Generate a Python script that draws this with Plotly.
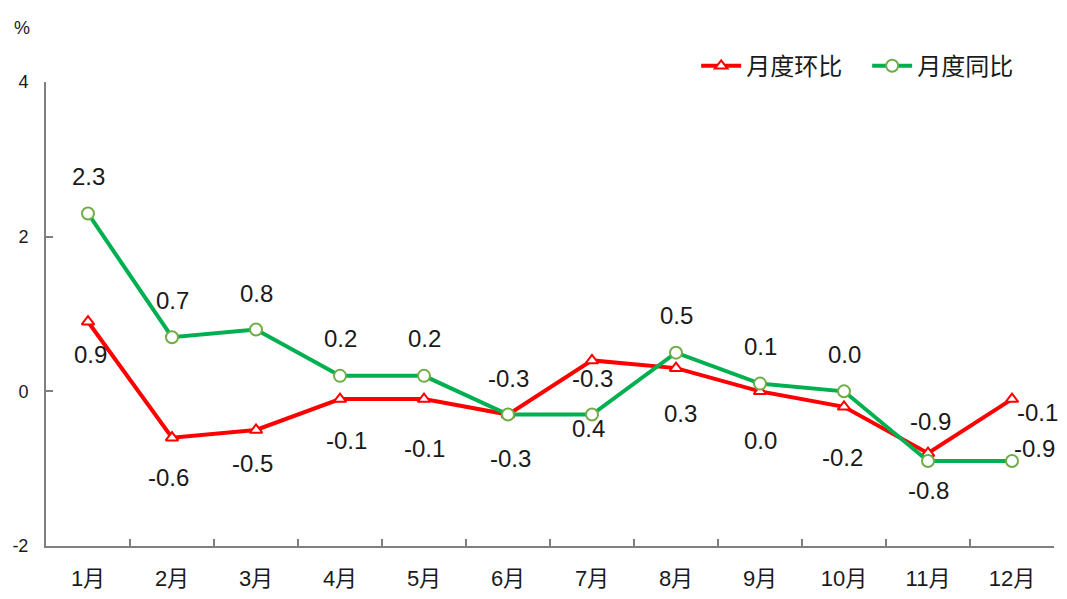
import plotly.graph_objects as go

months = ["1月", "2月", "3月", "4月", "5月", "6月", "7月", "8月", "9月", "10月", "11月", "12月"]
mom = [0.9, -0.6, -0.5, -0.1, -0.1, -0.3, 0.4, 0.3, 0.0, -0.2, -0.8, -0.1]   # 月度环比
yoy = [2.3, 0.7, 0.8, 0.2, 0.2, -0.3, -0.3, 0.5, 0.1, 0.0, -0.9, -0.9]      # 月度同比
y_ticks = [-2, 0, 2, 4]

# label pixel offsets (xshift, yshift) for data labels
mom_off = [(2, -33), (-4, -40), (-4, -33), (6, -41), (0, -49), (2, -44),
           (-4, -68), (4, -45), (0, -49), (-2, -51), (0, -37), (25, -13)]
yoy_off = [(0, 37), (0, 37), (0, 36), (0, 37), (0, 37), (0, 36),
           (0, 36), (0, 37), (0, 37), (0, 37), (2, 39), (22, 12)]

RED = "#FF0000"
GREEN = "#00B050"
FONT = "Liberation Sans, Noto Sans CJK SC, sans-serif"
TXT = "#1a1a1a"

fig = go.Figure()
fig.add_trace(go.Scatter(
    x=months, y=mom, name="月度环比", mode="lines+markers",
    line=dict(color=RED, width=4),
    marker=dict(symbol="triangle-up", size=11, color="white",
                line=dict(color=RED, width=2)),
))
fig.add_trace(go.Scatter(
    x=months, y=yoy, name="月度同比", mode="lines+markers",
    line=dict(color=GREEN, width=4),
    marker=dict(symbol="circle", size=12, color="white",
                line=dict(color="#70AD47", width=2)),
))

for m, v, (dx, dy) in zip(months, mom, mom_off):
    fig.add_annotation(x=m, y=v, text=f"{v:.1f}", showarrow=False,
                       xshift=dx, yshift=dy,
                       font=dict(size=24, color=TXT, family=FONT))
for m, v, (dx, dy) in zip(months, yoy, yoy_off):
    fig.add_annotation(x=m, y=v, text=f"{v:.1f}", showarrow=False,
                       xshift=dx, yshift=dy,
                       font=dict(size=24, color=TXT, family=FONT))

fig.add_annotation(xref="paper", yref="paper", x=-0.024, y=1.116, text="%",
                   showarrow=False, xanchor="center", yanchor="middle",
                   font=dict(size=18, color=TXT, family=FONT))

# page body has an 8px margin: size the figure so the page is exactly 1067x599
fig.update_layout(
    width=1051, height=583,
    margin=dict(l=38, r=5, t=74, b=45, autoexpand=False),
    paper_bgcolor="white", plot_bgcolor="white",
    font=dict(family=FONT, color=TXT),
    showlegend=True,
    legend=dict(orientation="h", x=0.645, y=1.034, xanchor="left", yanchor="middle",
                font=dict(size=24, color=TXT, family="Noto Sans CJK SC, sans-serif"),
                bgcolor="rgba(0,0,0,0)", itemwidth=40, tracegroupgap=0,
                entrywidth=116, entrywidthmode="pixels"),
)
fig.update_xaxes(
    type="category", range=[-0.5, len(months) - 0.5],
    showgrid=False, showline=True, linecolor="#808080", linewidth=2,
    ticks="inside", ticklen=7, tickcolor="#808080", tickwidth=2, tickson="boundaries",
    tickfont=dict(size=22, color=TXT, family=FONT), ticklabelstandoff=12,
    zeroline=False, automargin=False,
)
fig.update_yaxes(
    range=[-2, 4], tickvals=y_ticks, ticktext=[str(t) for t in y_ticks],
    showgrid=False, showline=True,
    linecolor="#808080", linewidth=2, ticks="inside", ticklen=7,
    tickcolor="#808080", tickwidth=2, zeroline=False,
    tickfont=dict(size=18, color=TXT, family=FONT), ticklabelstandoff=12,
    automargin=False,
)

fig.write_html("out.html")
